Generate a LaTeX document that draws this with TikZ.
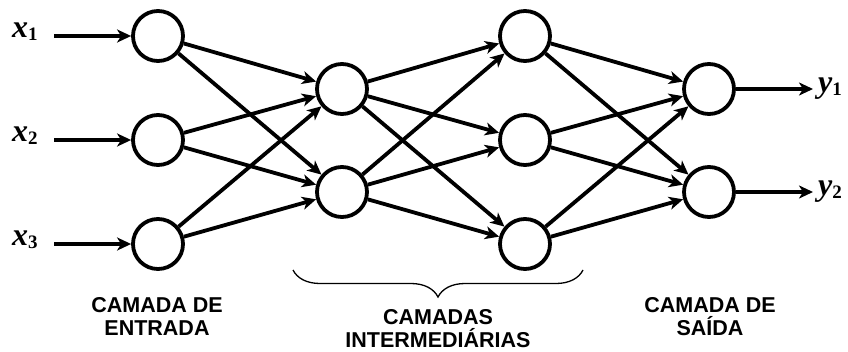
\documentclass[tikz,border=0pt]{standalone}
\usepackage{fontspec}
\setmainfont{Liberation Sans}
\newfontfamily\serifv{Liberation Serif}[BoldFont={Liberation Serif Bold},BoldItalicFont={Liberation Serif Bold Italic}]
\usetikzlibrary{arrows.meta,decorations.pathreplacing}
\newcommand\varlab[2]{{\serifv\bfseries\itshape\fontsize{32}{32}\selectfont #1}\raisebox{-3pt}{\serifv\bfseries\upshape\fontsize{19}{19}\selectfont #2}}
\begin{document}
\begin{tikzpicture}[x=1pt,y=-1pt,
  neuron/.style={circle,draw,line width=3.8pt,minimum size=50pt,inner sep=0pt},
  conn/.style={line width=3.8pt,-{Stealth[length=14pt,width=13pt,inset=4pt]}},
  lab/.style={font=\fontsize{21.5}{23}\selectfont\bfseries,align=center,inner sep=0pt},
  vlab/.style={inner sep=0pt}]
\useasboundingbox (0,0) rectangle (848,351);
% layer 1
\node[neuron] (a1) at (158,36) {};
\node[neuron] (a2) at (158,140) {};
\node[neuron] (a3) at (158,244) {};
% layer 2
\node[neuron] (b1) at (342,89) {};
\node[neuron] (b2) at (342,192) {};
% layer 3
\node[neuron] (c1) at (525,36) {};
\node[neuron] (c2) at (525,140) {};
\node[neuron] (c3) at (525,244) {};
% layer 4
\node[neuron] (d1) at (709,89) {};
\node[neuron] (d2) at (709,192) {};
% inputs / outputs
\coordinate (i1) at (54,36);
\coordinate (i2) at (54,140);
\coordinate (i3) at (54,244);
\coordinate (o1) at (813,89);
\coordinate (o2) at (813,192);
\node[vlab,anchor=base west] (x1) at (12,37) {\varlab{x}{1}};
\node[vlab,anchor=base west] (x2) at (12,141) {\varlab{x}{2}};
\node[vlab,anchor=base west] (x3) at (12,245) {\varlab{x}{3}};
\node[vlab,anchor=base west] (y1) at (818,92) {\varlab{y}{1}};
\node[vlab,anchor=base west] (y2) at (818,195) {\varlab{y}{2}};
\draw[conn] (i1) -- (a1);
\draw[conn] (i2) -- (a2);
\draw[conn] (i3) -- (a3);
\draw[conn] (d1) -- (o1);
\draw[conn] (d2) -- (o2);
\foreach \s in {a1,a2,a3}{\foreach \t in {b1,b2}{\draw[conn] (\s) -- (\t);}}
\foreach \s in {b1,b2}{\foreach \t in {c1,c2,c3}{\draw[conn] (\s) -- (\t);}}
\foreach \s in {c1,c2,c3}{\foreach \t in {d1,d2}{\draw[conn] (\s) -- (\t);}}
% brace
\coordinate (bl) at (293,270);
\coordinate (br) at (583,270);
\draw[line width=1.3pt,decorate,decoration={brace,mirror,amplitude=27pt,aspect=0.5}] (bl) -- (br);
% labels
\node[lab,anchor=base] (l1) at (157,335) {CAMADA DE\\ENTRADA};
\node[lab,anchor=base] (l2) at (438,347) {CAMADAS\\INTERMEDIÁRIAS};
\node[lab,anchor=base] (l3) at (710,335) {CAMADA DE\\SAÍDA};
\end{tikzpicture}
\end{document}
